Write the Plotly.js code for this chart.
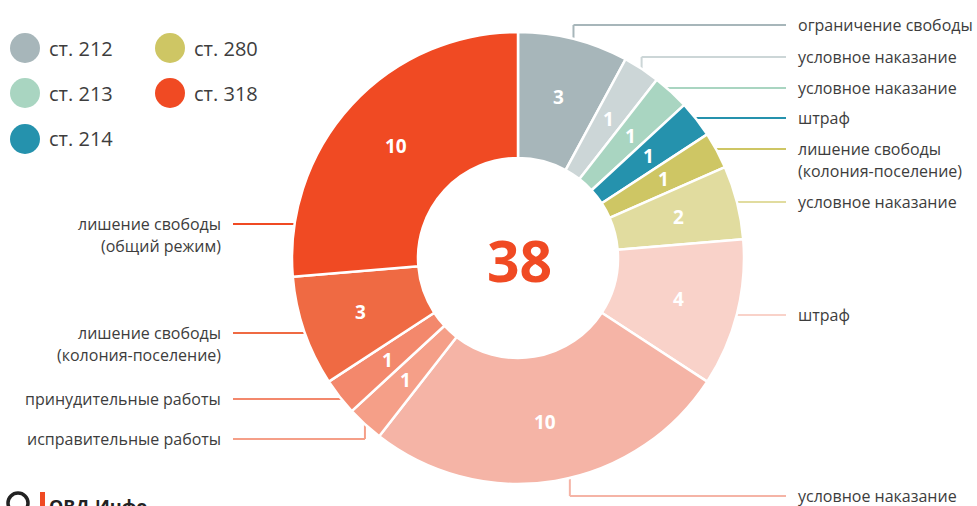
<!DOCTYPE html>
<html>
<head>
<meta charset="utf-8">
<script src="https://cdn.plot.ly/plotly-3.0.1.min.js"></script>
<style>html,body{margin:0;padding:0;background:#fff;}#chart{width:977px;height:506px;}</style>
</head>
<body>
<div id="chart"></div>
<script>
// ---- data ----
const articles = ['ст. 212','ст. 212','ст. 213','ст. 214','ст. 280','ст. 280','ст. 318','ст. 318','ст. 318','ст. 318','ст. 318','ст. 318'];
const outcomes = [
  'ограничение свободы',
  'условное наказание',
  'условное наказание',
  'штраф',
  'лишение свободы\n(колония-поселение)',
  'условное наказание',
  'штраф',
  'условное наказание',
  'исправительные работы',
  'принудительные работы',
  'лишение свободы\n(колония-поселение)',
  'лишение свободы\n(общий режим)'
];
const counts = [3,1,1,1,1,2,4,10,1,1,3,10];
const sliceColors = ['#a7b6ba','#ccd6d7','#a9d5c1','#2592ad','#cec664','#e1dc9f','#f9d2c9','#f5b4a6','#f59f88','#f3886c','#ef6a43','#f04a23'];
const legendArticles = ['ст. 212','ст. 213','ст. 214','ст. 280','ст. 318'];
const legendColors = ['#a7b6ba','#a9d5c1','#2592ad','#cec664','#f04a23'];

// ---- layout / positions (pixels) ----
const W = 977, H = 506;
const CX = 518, CY = 258, R = 226, RIN = 100;
const labelSide = ['r','r','r','r','r','r','r','r','l','l','l','l'];
const labelY    = [25, 57, 88, 118, 149, 202, 315, 496, 439, 399, 333, 224];
const connType  = ['e','e','h','h','h','h','h','e','e','h','h','h'];
const anchorFrac= [0.5,0.5,0.5,0.5,0.5,0.5,0.5,0.46,0.5,0.5,0.5,0.5];
const rightLineEnd = 786, rightTextX = 796, leftLineEnd = 233, leftTextX = 223;
const lineGap = 22;
const valueRadius = 166;

const px = x => x / W;
const py = y => 1 - y / H;

const total = counts.reduce((a,b)=>a+b,0);
const labels = articles.map((a,i)=>a + ': ' + outcomes[i].replace('\n',' ') + ' #' + i);

const trace = {
  type: 'pie',
  values: counts,
  labels: labels,
  textinfo: 'none',
  sort: false,
  direction: 'clockwise',
  rotation: 0,
  hole: RIN / R,
  marker: {colors: sliceColors, line: {color: '#ffffff', width: 2.5}},
  domain: {x: [px(CX - R), px(CX + R)], y: [py(CY + R), py(CY - R)]},
  showlegend: false,
  hoverinfo: 'label+value',
  automargin: false
};

const shapes = [];
const annotations = [];

// value labels, leader lines + outside labels computed from slice angles
let cum = 0;
counts.forEach((v, i) => {
  const a0 = cum / total * 2 * Math.PI;
  const span = v / total * 2 * Math.PI;
  cum += v;
  const mid = a0 + span / 2;
  annotations.push({
    xref: 'paper', yref: 'paper', showarrow: false,
    x: px(CX + valueRadius * Math.sin(mid)), y: py(CY - valueRadius * Math.cos(mid)),
    xanchor: 'center', yanchor: 'middle', text: String(v),
    font: {family: 'Open Sans, sans-serif', size: 19, color: '#ffffff', weight: 'bold'}
  });
  const th = a0 + anchorFrac[i] * span;
  const ly = labelY[i];
  const right = labelSide[i] === 'r';
  const outerX = right ? rightLineEnd : leftLineEnd;
  const col = sliceColors[i];
  const ln = {type: 'line', xref: 'paper', yref: 'paper', layer: 'below', line: {color: col, width: 2}};
  if (connType[i] === 'h') {
    const dx = Math.sqrt(Math.max(0, R*R - (ly-CY)*(ly-CY)));
    const ex = right ? CX + dx - 4 : CX - dx + 4;
    shapes.push(Object.assign({}, ln, {x0: px(outerX), y0: py(ly), x1: px(ex), y1: py(ly)}));
  } else {
    const ex = CX + R * Math.sin(th);
    const eyEdge = CY - (R - 4) * Math.cos(th);
    shapes.push(Object.assign({}, ln, {x0: px(outerX), y0: py(ly), x1: px(ex), y1: py(ly)}));
    shapes.push(Object.assign({}, ln, {x0: px(ex), y0: py(ly), x1: px(ex), y1: py(eyEdge)}));
  }
  outcomes[i].split('\n').forEach((t, k) => {
    annotations.push({
      xref: 'paper', yref: 'paper', showarrow: false,
      x: px(right ? rightTextX : leftTextX), y: py(ly + k * lineGap),
      xanchor: right ? 'left' : 'right', yanchor: 'middle',
      text: t,
      font: {family: 'Open Sans, sans-serif', size: 16, color: '#3d3d3d'}
    });
  });
});

// center total
annotations.push({
  xref: 'paper', yref: 'paper', showarrow: false,
  x: px(CX + 1), y: py(CY + 2), xanchor: 'center', yanchor: 'middle',
  text: String(total),
  font: {family: 'Open Sans, sans-serif', size: 57, color: '#f04a23', weight: 'bold'}
});

// legend (two columns)
const legX = [25, 25, 25, 170, 170];
const legY = [48, 93, 139, 48, 93];
const legR = 15;
legendArticles.forEach((a, i) => {
  shapes.push({type: 'circle', xref: 'paper', yref: 'paper', layer: 'above',
    x0: px(legX[i] - legR), x1: px(legX[i] + legR), y0: py(legY[i] + legR), y1: py(legY[i] - legR),
    fillcolor: legendColors[i], line: {width: 0}});
  annotations.push({xref: 'paper', yref: 'paper', showarrow: false,
    x: px(legX[i] + 22), y: py(legY[i]), xanchor: 'left', yanchor: 'middle',
    text: a, font: {family: 'Open Sans, sans-serif', size: 20, color: '#3d3d3d'}});
});

// logo (cut off at bottom, as in the reference)
shapes.push({type: 'circle', xref: 'paper', yref: 'paper', layer: 'above',
  x0: px(8), x1: px(28), y0: py(513), y1: py(493), line: {color: '#222', width: 3.5}});
shapes.push({type: 'rect', xref: 'paper', yref: 'paper', layer: 'above',
  x0: px(40), x1: px(45), y0: py(506), y1: py(492), fillcolor: '#f04a23', line: {width: 0}});
annotations.push({xref: 'paper', yref: 'paper', showarrow: false,
  x: px(47), y: py(492), xanchor: 'left', yanchor: 'top',
  text: 'ОВД-Инфо', font: {family: 'Open Sans, sans-serif', size: 18, color: '#222', weight: 'bold'}});

const layout = {
  width: W, height: H,
  margin: {l: 0, r: 0, t: 0, b: 0, pad: 0},
  paper_bgcolor: '#ffffff', plot_bgcolor: '#ffffff',
  showlegend: false,
  shapes: shapes,
  annotations: annotations
};

Plotly.newPlot('chart', [trace], layout, {displayModeBar: false, staticPlot: true});
</script>
</body>
</html>
